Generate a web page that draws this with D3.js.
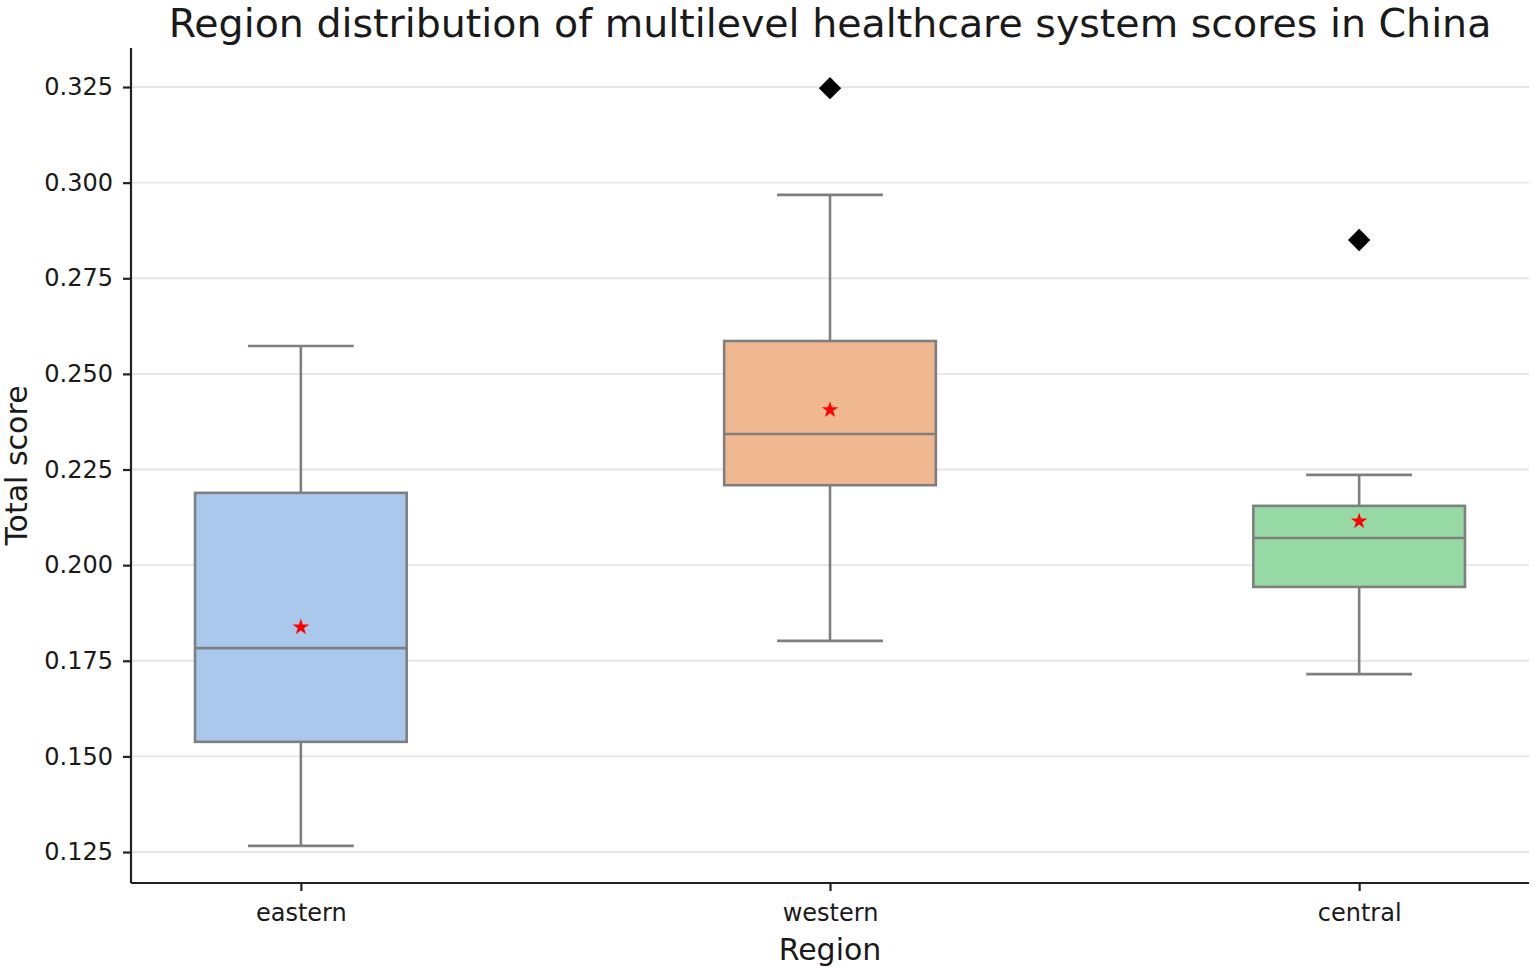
<!DOCTYPE html>
<html><head><meta charset="utf-8">
<script src="https://cdn.jsdelivr.net/npm/d3@7"></script>
<style>body{margin:0;background:#fff}svg{display:block}text{font-family:"DejaVu Sans",sans-serif;fill:#1a1a1a}</style>
</head><body><svg id="c" width="1535" height="968"></svg>
<script>
const categories = ["eastern", "western", "central"];
const q1 = [0.1538, 0.2209, 0.1943];
const median = [0.1783, 0.2343, 0.2071];
const q3 = [0.2189, 0.2586, 0.2155];
const whiskerLow = [0.1266, 0.1802, 0.1715];
const whiskerHigh = [0.2573, 0.2968, 0.2236];
const means = [0.1838, 0.2406, 0.2115];
const outliers = [[], [0.3247], [0.2850]];
const yTicks = [0.125, 0.150, 0.175, 0.200, 0.225, 0.250, 0.275, 0.300, 0.325];
const colors = ["#a9c8ec", "#f0b891", "#97d9a5"];

const svg = d3.select("#c");
const L = 131, R = 1529, T = 48, B = 883;
const y = d3.scaleLinear().domain([0.1169, 0.3352]).range([B, T]);
const x = d3.scaleLinear().domain([-0.321, 2.321]).range([L, R]);
const boxW = 0.4;

// grid
svg.append("g").selectAll("line").data(yTicks).join("line")
  .attr("x1", L).attr("x2", R).attr("y1", d => y(d)).attr("y2", d => y(d))
  .attr("stroke", "#e6e6e6").attr("stroke-width", 1.8);

const g = svg.append("g");
categories.forEach((c, i) => {
  const cx = x(i);
  const hw = x(boxW / 2) - x(0);
  const cw = hw / 2;
  const st = "#7f7f7f", sw = 2.6;
  g.append("line").attr("x1", cx).attr("x2", cx).attr("y1", y(q1[i])).attr("y2", y(whiskerLow[i])).attr("stroke", st).attr("stroke-width", sw);
  g.append("line").attr("x1", cx).attr("x2", cx).attr("y1", y(q3[i])).attr("y2", y(whiskerHigh[i])).attr("stroke", st).attr("stroke-width", sw);
  g.append("line").attr("x1", cx - cw).attr("x2", cx + cw).attr("y1", y(whiskerLow[i])).attr("y2", y(whiskerLow[i])).attr("stroke", st).attr("stroke-width", sw);
  g.append("line").attr("x1", cx - cw).attr("x2", cx + cw).attr("y1", y(whiskerHigh[i])).attr("y2", y(whiskerHigh[i])).attr("stroke", st).attr("stroke-width", sw);
  g.append("rect").attr("x", cx - hw).attr("width", 2 * hw).attr("y", y(q3[i])).attr("height", y(q1[i]) - y(q3[i]))
    .attr("fill", colors[i]).attr("stroke", st).attr("stroke-width", sw);
  g.append("line").attr("x1", cx - hw).attr("x2", cx + hw).attr("y1", y(median[i])).attr("y2", y(median[i])).attr("stroke", st).attr("stroke-width", sw);
  g.append("path").attr("d", d3.symbol(d3.symbolStar, 85)()).attr("transform", `translate(${cx},${y(means[i])})`).attr("fill", "#ff0000");
  outliers[i].forEach(o => {
    g.append("path").attr("d", d3.symbol(d3.symbolSquare, 250)()).attr("transform", `translate(${cx},${y(o)}) rotate(45)`).attr("fill", "#000");
  });
});

// axes
const yAxis = svg.append("g").attr("transform", `translate(${L},0)`)
  .call(d3.axisLeft(y).tickValues(yTicks).tickFormat(d3.format(".3f")).tickSize(8).tickPadding(10));
const xAxis = svg.append("g").attr("transform", `translate(0,${B})`)
  .call(d3.axisBottom(x).tickValues([0, 1, 2]).tickFormat(i => categories[i]).tickSize(8).tickPadding(13));
[yAxis, xAxis].forEach(a => {
  a.select(".domain").attr("stroke", "#222").attr("stroke-width", 2.2);
  a.selectAll(".tick line").attr("stroke", "#222").attr("stroke-width", 2.2);
  a.selectAll("text").style("font-size", "24px").attr("fill", "#1a1a1a");
});
yAxis.select(".domain").attr("d", `M0,${T}V${B}`);
xAxis.select(".domain").attr("d", `M${L},0H${R}`);

svg.append("text").attr("x", 830).attr("y", 37).attr("text-anchor", "middle").style("font-size", "39.5px").text("Region distribution of multilevel healthcare system scores in China");
svg.append("text").attr("x", 830).attr("y", 960).attr("text-anchor", "middle").style("font-size", "30px").text("Region");
svg.append("text").attr("transform", `translate(27,${(T + B) / 2}) rotate(-90)`).attr("text-anchor", "middle").style("font-size", "30px").text("Total score");
</script></body></html>
